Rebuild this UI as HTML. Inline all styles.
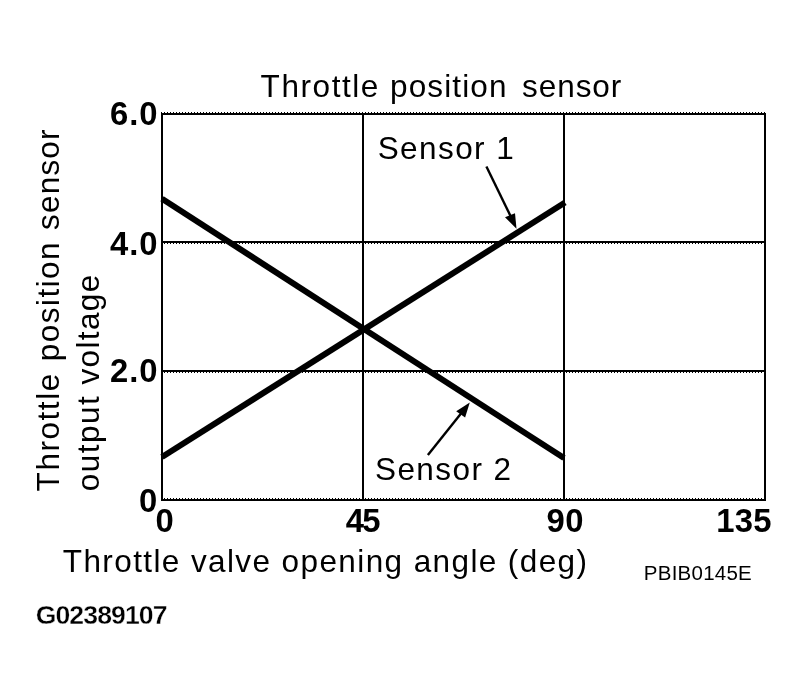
<!DOCTYPE html>
<html lang="en">
<head>
<meta charset="utf-8">
<title>Throttle position sensor</title>
<style>
html,body{margin:0;padding:0;background:#fff;}
body{width:808px;height:699px;overflow:hidden;}
svg{display:block;}
text{font-family:"Liberation Sans",Arial,Helvetica,sans-serif;fill:#000;}
.r{font-size:31.5px;}
.b{font-size:32.8px;font-weight:bold;}
</style>
</head>
<body>
<svg width="808" height="699" viewBox="0 0 808 699">
<rect x="0" y="0" width="808" height="699" fill="#fff"/>
<!-- grid / frame -->
<g fill="#000" shape-rendering="crispEdges">
<rect x="161" y="113" width="605" height="2"/>
<rect x="161" y="241" width="605" height="2"/>
<rect x="161" y="370" width="605" height="2"/>
<rect x="161" y="499" width="605" height="2"/>
<rect x="161" y="113" width="2" height="388"/>
<rect x="362" y="113" width="2" height="388"/>
<rect x="563" y="113" width="2" height="388"/>
<rect x="764" y="113" width="2" height="388"/>
</g>
<g stroke="#000" stroke-width="1" stroke-dasharray="1 2" shape-rendering="crispEdges">
<line x1="161" y1="112.5" x2="766" y2="112.5"/>
<line x1="161" y1="243.5" x2="766" y2="243.5"/>
<line x1="161" y1="372.5" x2="766" y2="372.5"/>
<line x1="161" y1="498.5" x2="766" y2="498.5"/>
</g>
<!-- data lines -->
<g stroke="#000" stroke-width="6" fill="none">
<line x1="162" y1="457" x2="565" y2="202.5"/>
<line x1="162" y1="198.8" x2="564" y2="458.1"/>
</g>
<!-- arrows -->
<g stroke="#000" stroke-width="2.4" fill="none">
<line x1="486.4" y1="166.5" x2="511" y2="217"/>
<line x1="427.9" y1="455.1" x2="461" y2="413.5"/>
</g>
<polygon points="516.5,228.7 505,217.3 515,213.2" fill="#000"/>
<polygon points="469.8,402.6 456.2,411.2 465.1,417.5" fill="#000"/>
<!-- text -->
<text class="r" x="260.6" y="97" textLength="117.8" lengthAdjust="spacing">Throttle</text>
<text class="r" x="390" y="97" textLength="116.5" lengthAdjust="spacing">position</text>
<text class="r" x="522" y="97" textLength="99.3" lengthAdjust="spacing">sensor</text>
<text class="r" x="377.7" y="158.7" textLength="136" lengthAdjust="spacing">Sensor 1</text>
<text class="r" x="375" y="480.2" textLength="136" lengthAdjust="spacing">Sensor 2</text>
<text class="r" transform="translate(59,491.4) rotate(-90)" x="0" y="0" textLength="117.6" lengthAdjust="spacing">Throttle</text>
<text class="r" transform="translate(59,361.2) rotate(-90)" x="0" y="0" textLength="118.8" lengthAdjust="spacing">position</text>
<text class="r" transform="translate(59,230) rotate(-90)" x="0" y="0" textLength="100.6" lengthAdjust="spacing">sensor</text>
<text class="r" transform="translate(99,491.3) rotate(-90)" x="0" y="0" textLength="95" lengthAdjust="spacing">output</text>
<text class="r" transform="translate(99,384.5) rotate(-90)" x="0" y="0" textLength="109.8" lengthAdjust="spacing">voltage</text>
<text class="b" x="110" y="124.8" textLength="47.5" lengthAdjust="spacing">6.0</text>
<text class="b" x="110" y="255" textLength="47.5" lengthAdjust="spacing">4.0</text>
<text class="b" x="110" y="382.3" textLength="47.5" lengthAdjust="spacing">2.0</text>
<text class="b" x="139" y="512">0</text>
<text class="b" x="155.5" y="532.1">0</text>
<text class="b" x="345.8" y="532.1" textLength="34.7" lengthAdjust="spacing">45</text>
<text class="b" x="546.5" y="532.1" textLength="37" lengthAdjust="spacing">90</text>
<text class="b" x="716.2" y="532.1" textLength="55.4" lengthAdjust="spacing">135</text>
<text class="r" x="62.8" y="571.6" textLength="524.2" lengthAdjust="spacing">Throttle valve opening angle (deg)</text>
<text x="643.8" y="579.8" font-size="20.5" textLength="108" lengthAdjust="spacing">PBIB0145E</text>
<text x="35.7" y="623.5" font-size="26.6" font-weight="bold" stroke="#fff" stroke-width="0.35" textLength="131.8" lengthAdjust="spacing">G02389107</text>
</svg>
</body>
</html>
